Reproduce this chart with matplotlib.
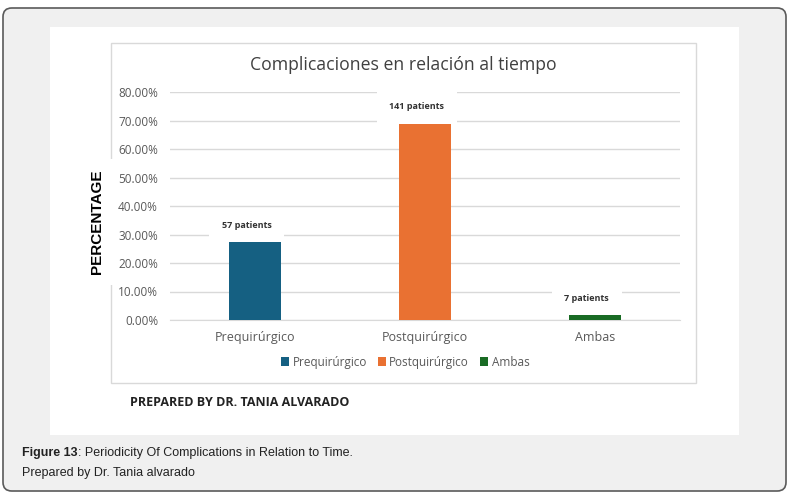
"""Complicaciones en relación al tiempo: barras por periodo, con marco de figura."""

import matplotlib
matplotlib.use("Agg")
import matplotlib.pyplot as plt
from matplotlib.patches import FancyBboxPatch, Rectangle
from matplotlib.ticker import PercentFormatter

W, H = 796, 498

categories = ["Prequirúrgico", "Postquirúrgico", "Ambas"]
percent = [27.8, 69.4, 2.3]
patients = [57, 141, 7]
colors = ["#156082", "#E97132", "#196B24"]
yticks = [0, 10, 20, 30, 40, 50, 60, 70, 80]

title = "Complicaciones en relación al tiempo"
ylabel = "PERCENTAGE"
prepared = "PREPARED BY DR. TANIA ALVARADO"
caption_bold = "Figure 13"
caption_rest = ": Periodicity Of Complications in Relation to Time."
caption_line2 = "Prepared by Dr. Tania alvarado"

CHART_FONT = ["Open Sans", "DejaVu Sans"]
GRAY = "#595959"
GRID = "#d9d9d9"


def px(x, y):
    """píxeles (origen arriba-izquierda) -> coordenadas de figura"""
    return x / W, 1 - y / H


def rect_px(x0, y0, x1, y1):
    return x0 / W, 1 - y1 / H, (x1 - x0) / W, (y1 - y0) / H


fig = plt.figure(figsize=(W / 100, H / 100), dpi=100, facecolor="white")

# marco exterior redondeado + panel blanco + marco del gráfico (debajo de los ejes)
x, y, w, h = rect_px(3, 8, 786, 491)
fig.patches.append(FancyBboxPatch((x, y), w, h, boxstyle="round,pad=0,rounding_size=0.011",
                                  transform=fig.transFigure, facecolor="#f0f0f0",
                                  edgecolor="#5a5a5a", linewidth=1.2,
                                  mutation_aspect=W / H, zorder=-3))
x, y, w, h = rect_px(50, 27, 739, 435)
fig.patches.append(Rectangle((x, y), w, h, transform=fig.transFigure,
                             facecolor="white", edgecolor="none", zorder=-2))
x, y, w, h = rect_px(111, 43, 696, 383)
fig.patches.append(Rectangle((x, y), w, h, transform=fig.transFigure,
                             facecolor="none", edgecolor=GRID, linewidth=1, zorder=-1))

ax = fig.add_axes(rect_px(170, 92, 680, 320))
ax.set_facecolor("none")
xs = range(len(categories))
bars = ax.bar(xs, percent, width=0.31, color=colors, label=categories, zorder=3)
ax.set_xlim(-0.5, 2.5)
ax.set_ylim(0, 80)
ax.set_yticks(yticks)
ax.yaxis.set_major_formatter(PercentFormatter(decimals=2))
ax.grid(axis="y", color=GRID, linewidth=1, zorder=0)
for s in ("top", "right", "left"):
    ax.spines[s].set_visible(False)
ax.spines["bottom"].set_color(GRID)
ax.tick_params(axis="both", length=0, colors=GRAY, labelsize=8.5)
ax.tick_params(axis="y", pad=8.6)
ax.tick_params(axis="x", pad=8)
ax.set_xticks(list(xs))
ax.set_xticklabels(categories, fontsize=9)
for lab in ax.get_xticklabels() + ax.get_yticklabels():
    lab.set_family(CHART_FONT)

for i, (b, n) in enumerate(zip(bars, patients)):
    ax.annotate(f"{n} patients", (b.get_x() + b.get_width() / 2, b.get_height()),
                xytext=(-6, 11), textcoords="offset points", ha="center", va="center",
                fontsize=6.5, fontweight="bold", color="#333333", family=CHART_FONT,
                bbox=dict(facecolor="white", edgecolor="none", pad=9), zorder=4)

fig.text(*px(403, 65), title, ha="center", va="center", fontsize=12.7,
         color="#404040", family=CHART_FONT)

leg = fig.legend(handles=bars, labels=categories, loc="center", bbox_to_anchor=px(405, 362),
                 ncol=3, frameon=False, handlelength=0.7, handleheight=0.7,
                 handletextpad=0.3, columnspacing=0.9, prop={"family": CHART_FONT, "size": 8.5})
for t in leg.get_texts():
    t.set_color(GRAY)

fig.text(*px(97, 222), ylabel, rotation=90, ha="center", va="center", fontsize=11,
         fontweight="bold", color="black", family=["Liberation Sans", "DejaVu Sans"],
         bbox=dict(facecolor="white", edgecolor="none", pad=8))

fig.text(*px(130, 403), prepared, ha="left", va="center", fontsize=9,
         fontweight="bold", color="#222222", family=CHART_FONT)

cap = fig.text(*px(22, 453), caption_bold, ha="left", va="center", fontsize=9,
               fontweight="bold", color="#222222", family=["Liberation Sans", "DejaVu Sans"])
fig.canvas.draw()
bb = cap.get_window_extent()
fig.text(bb.x1 / W, 1 - 453 / H, caption_rest, ha="left", va="center", fontsize=9,
         color="#222222", family=["Liberation Sans", "DejaVu Sans"])
fig.text(*px(22, 473), caption_line2, ha="left", va="center", fontsize=9,
         color="#222222", family=["Liberation Sans", "DejaVu Sans"])

fig.savefig("out.png", dpi=100, facecolor="white")
